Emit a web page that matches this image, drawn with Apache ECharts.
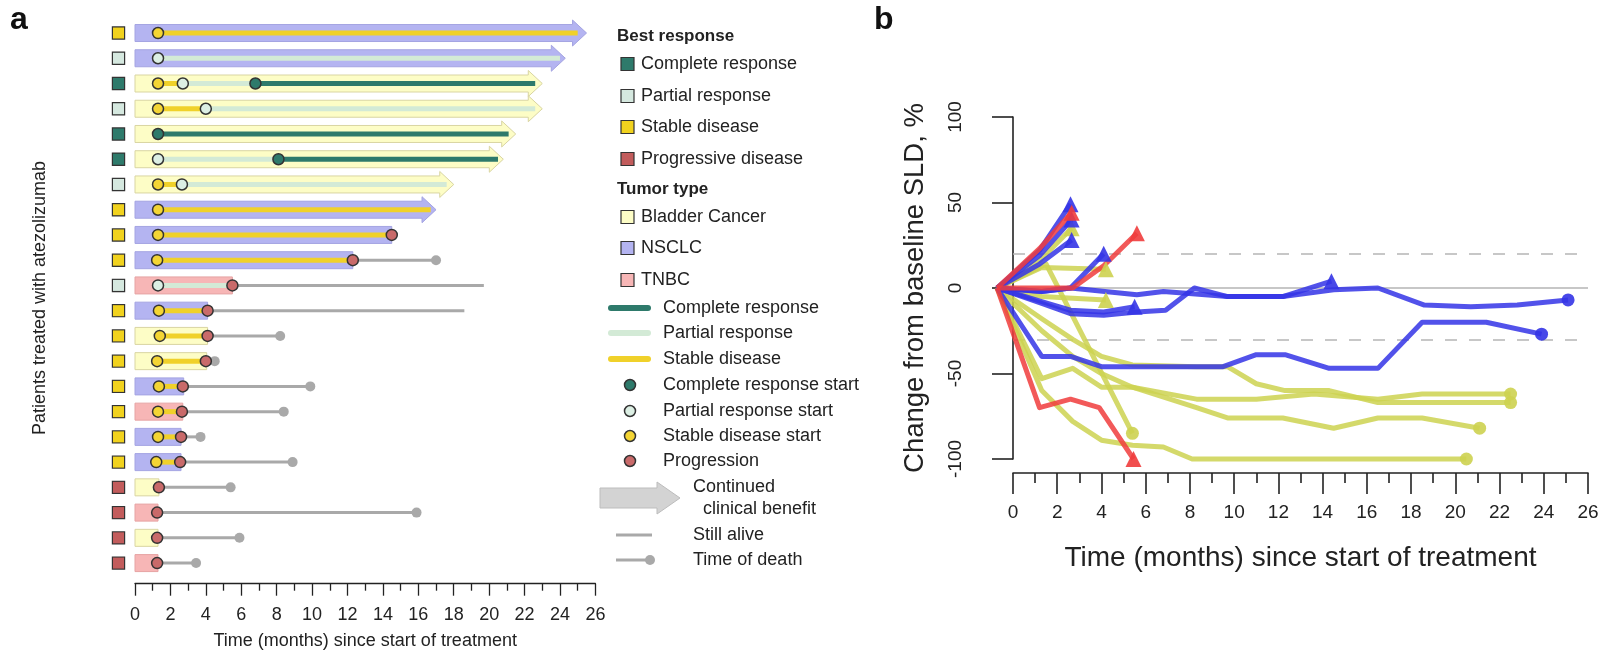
<!DOCTYPE html>
<html>
<head>
<meta charset="utf-8">
<script src="https://cdn.jsdelivr.net/npm/echarts@6/dist/echarts.min.js"></script>
<style>
html, body { margin: 0; padding: 0; background: #fff; }
#main { width: 1602px; height: 654px; }
</style>
</head>
<body>
<div id="main"></div>
<script>
// ---- panel a : one row per patient, top to bottom ----
const patients = ['1', '2', '3', '4', '5', '6', '7', '8', '9', '10', '11', '12', '13', '14', '15', '16', '17', '18', '19', '20', '21', '22']
const tumorType = ['NSCLC', 'NSCLC', 'Bladder', 'Bladder', 'Bladder', 'Bladder', 'Bladder', 'NSCLC', 'NSCLC', 'NSCLC', 'TNBC',
  'NSCLC', 'Bladder', 'Bladder', 'NSCLC', 'TNBC', 'NSCLC', 'NSCLC', 'Bladder', 'TNBC', 'Bladder', 'TNBC']
const bestResponse = ['SD', 'PR', 'CR', 'PR', 'CR', 'CR', 'PR', 'SD', 'SD', 'SD', 'PR',
  'SD', 'SD', 'SD', 'SD', 'SD', 'SD', 'SD', 'PD', 'PD', 'PD', 'PD']
// treatment duration (months), arrow tip for continued benefit
const barEnd = [25.5, 24.3, 23.0, 23.0, 21.5, 20.8, 18.0, 17.0, 14.5, 12.3, 5.5, 4.1, 4.1, 4.05, 2.75, 2.7, 2.6, 2.6, 1.35, 1.3, 1.3, 1.3]
const continued = [1, 1, 1, 1, 1, 1, 1, 1, 0, 0, 0, 0, 0, 0, 0, 0, 0, 0, 0, 0, 0, 0]
// response phases: [row, from, to, phase]
const phases = [
  [0, 1.3, 25.0, 'SD'],
  [1, 1.3, 24.0, 'PR'],
  [2, 1.3, 2.7, 'SD'], [2, 2.7, 6.8, 'PR'], [2, 6.8, 22.6, 'CR'],
  [3, 1.3, 4.0, 'SD'], [3, 4.0, 22.6, 'PR'],
  [4, 1.3, 21.1, 'CR'],
  [5, 1.3, 8.1, 'PR'], [5, 8.1, 20.5, 'CR'],
  [6, 1.3, 2.65, 'SD'], [6, 2.65, 17.6, 'PR'],
  [7, 1.3, 16.7, 'SD'],
  [8, 1.3, 14.5, 'SD'],
  [9, 1.25, 12.3, 'SD'],
  [10, 1.3, 5.5, 'PR'],
  [11, 1.35, 4.1, 'SD'],
  [12, 1.4, 4.1, 'SD'],
  [13, 1.25, 4.0, 'SD'],
  [14, 1.35, 2.7, 'SD'],
  [15, 1.3, 2.65, 'SD'],
  [16, 1.3, 2.6, 'SD'],
  [17, 1.2, 2.55, 'SD']
]
// events: [time, row]
const sdStart = [[1.3, 0], [1.3, 2], [1.3, 3], [1.3, 6], [1.3, 7], [1.3, 8], [1.25, 9], [1.35, 11], [1.4, 12], [1.25, 13],
  [1.35, 14], [1.3, 15], [1.3, 16], [1.2, 17]]
const prStart = [[1.3, 1], [2.7, 2], [4.0, 3], [1.3, 5], [2.65, 6], [1.3, 10]]
const crStart = [[6.8, 2], [1.3, 4], [8.1, 5]]
const progression = [[14.5, 8], [12.3, 9], [5.5, 10], [4.1, 11], [4.1, 12], [4.0, 13], [2.7, 14], [2.65, 15], [2.6, 16],
  [2.55, 17], [1.35, 18], [1.25, 19], [1.25, 20], [1.25, 21]]
// follow-up after treatment: [row, from, to, died]
const survival = [[9, 12.3, 17.0, 1], [10, 5.5, 19.7, 0], [11, 4.1, 18.6, 0], [12, 4.1, 8.2, 1], [13, 4.0, 4.5, 1],
  [14, 2.7, 9.9, 1], [15, 2.65, 8.4, 1], [16, 2.6, 3.7, 1], [17, 2.55, 8.9, 1], [18, 1.35, 5.4, 1],
  [19, 1.25, 15.9, 1], [20, 1.25, 5.9, 1], [21, 1.25, 3.45, 1]]

// ---- panel b : change from baseline SLD (%) ----
const sldTraces = [
  { tumor: 'Bladder', end: 'prog', pts: [[-0.72, 0], [1.2, 16], [2.65, 35]] },
  { tumor: 'Bladder', end: 'prog', pts: [[-0.72, 0], [1.3, 12], [4.2, 11]] },
  { tumor: 'Bladder', end: 'death', pts: [[-0.72, 0], [1.5, 14], [5.4, -85]] },
  { tumor: 'Bladder', end: 'prog', pts: [[-0.72, 0], [1.3, -5], [2.7, -6], [4.2, -7]] },
  { tumor: 'Bladder', end: 'death', pts: [[-0.72, 0], [1.3, -53], [2.7, -47], [4.0, -58], [5.4, -58], [8.3, -65], [11, -65], [13.6, -62], [16.5, -65], [18.5, -62], [22.5, -62]] },
  { tumor: 'Bladder', end: 'death', pts: [[-0.72, 0], [1.3, -18], [2.7, -30], [4.0, -40], [5.4, -45], [8.3, -46], [9.7, -46], [11, -56], [12.3, -60], [14.3, -60], [16.5, -67], [22.5, -67]] },
  { tumor: 'Bladder', end: 'death', pts: [[-0.72, 0], [1.3, -25], [2.7, -40], [4.0, -50], [5.4, -58], [8.3, -70], [9.7, -76], [12.2, -76], [14.5, -82], [16.5, -76], [18.5, -76], [21.1, -82]] },
  { tumor: 'Bladder', end: 'death', pts: [[-0.72, 0], [1.3, -60], [2.7, -78], [4.0, -89], [5.4, -92], [6.8, -93], [8.1, -100], [20.5, -100]] },
  { tumor: 'NSCLC', end: 'prog', pts: [[-0.72, 0], [1.2, 22], [2.6, 49]] },
  { tumor: 'NSCLC', end: 'prog', pts: [[-0.72, 0], [1.2, 19], [2.65, 40]] },
  { tumor: 'NSCLC', end: 'prog', pts: [[-0.72, 0], [1.2, 14], [2.65, 28]] },
  { tumor: 'NSCLC', end: 'prog', pts: [[-0.72, 0], [1.3, -2], [2.6, 0], [4.1, 20]] },
  { tumor: 'NSCLC', end: 'prog', pts: [[-0.72, 0], [1.3, -8], [2.6, -13], [4.1, -14], [5.5, -11]] },
  { tumor: 'NSCLC', end: 'prog', pts: [[-0.72, 0], [1.3, -9], [2.6, -15], [4.1, -16], [5.6, -14], [6.9, -13], [8.2, 0], [9.7, -5], [12.2, -5], [14.4, 4]] },
  { tumor: 'NSCLC', end: 'death', pts: [[-0.72, 0], [1.3, -2], [2.6, 0], [5.6, -4], [6.8, -2], [9.7, -5], [12.2, -5], [14.5, -1], [16.5, 0], [18.6, -10], [20.7, -11], [22.8, -10], [25.1, -7]] },
  { tumor: 'NSCLC', end: 'death', pts: [[-0.72, 0], [1.3, -40], [2.6, -40], [4.0, -46], [9.5, -46], [11, -39], [12.3, -39], [14.3, -47], [16.5, -47], [18.5, -20], [21.4, -20], [23.9, -27]] },
  { tumor: 'TNBC', end: 'prog', pts: [[-0.72, 0], [1.2, 23], [2.65, 44]] },
  { tumor: 'TNBC', end: 'prog', pts: [[-0.72, 0], [1.3, 0], [2.7, 0], [4.1, 13], [5.6, 32]] },
  { tumor: 'TNBC', end: 'prog', pts: [[-0.72, 0], [1.2, -70], [2.6, -65], [3.9, -70], [5.45, -100]] }
]
const refLines = [20, -30]

const FONT = '"Liberation Sans", Arial, Helvetica, sans-serif'
const tumorStyle = {
  Bladder: { fill: '#fdfdc6', stroke: '#d9d5a2' },
  NSCLC: { fill: '#b4b4f1', stroke: '#a4a4e2' },
  TNBC: { fill: '#f7b6b6', stroke: '#e6a3a3' }
}
const respColor = { CR: '#2e7a6b', PR: '#d5e8df', SD: '#f1d21e', PD: '#c25c5c' }
const phaseColor = { CR: '#2e7a6b', PR: '#d3ead6', SD: '#f0d12a' }
const traceColor = { Bladder: '#cdd250', NSCLC: '#3434e6', TNBC: '#f03c3c' }

const chart = echarts.init(document.getElementById('main'))

function renderBar(params, api) {
  const row = api.value(0)
  const end = api.value(1)
  const cont = api.value(2)
  const st = tumorStyle[tumorType[row]]
  const p0 = api.coord([0, row])
  const p1 = api.coord([end, row])
  const h = 8.5
  const hh = 13
  const style = { fill: st.fill, stroke: st.stroke, lineWidth: 1 }
  if (cont) {
    const xb = p1[0] - 14
    const y = p0[1]
    return {
      type: 'polygon',
      shape: { points: [[p0[0], y - h], [xb, y - h], [xb, y - hh], [p1[0], y], [xb, y + hh], [xb, y + h], [p0[0], y + h]] },
      style: style
    }
  }
  return { type: 'rect', shape: { x: p0[0], y: p0[1] - h, width: p1[0] - p0[0], height: 2 * h }, style: style }
}

function renderPhase(params, api) {
  const row = api.value(0)
  const a = api.coord([api.value(1), row])
  const b = api.coord([api.value(2), row])
  return {
    type: 'line',
    shape: { x1: a[0], y1: a[1], x2: b[0], y2: b[1] },
    style: { stroke: phaseColor[phases[params.dataIndex][3]], lineWidth: 5 }
  }
}

function renderSurvival(params, api) {
  const row = api.value(0)
  const a = api.coord([api.value(1), row])
  const b = api.coord([api.value(2), row])
  const children = [{
    type: 'line',
    shape: { x1: a[0], y1: a[1], x2: b[0], y2: b[1] },
    style: { stroke: '#a9a9a9', lineWidth: 3 }
  }]
  if (api.value(3)) {
    children.push({ type: 'circle', shape: { cx: b[0], cy: b[1], r: 5 }, style: { fill: '#a9a9a9' } })
  }
  return { type: 'group', children: children }
}

function eventSeries(name, data, color) {
  return {
    name: name,
    type: 'scatter',
    xAxisIndex: 0,
    yAxisIndex: 0,
    data: data,
    symbolSize: 11,
    itemStyle: { color: color, borderColor: '#333', borderWidth: 1.5, opacity: 1 },
    z: 5,
    silent: true
  }
}

const traceSeries = sldTraces.map(function (tr, i) {
  const last = tr.pts.length - 1
  return {
    type: 'line',
    xAxisIndex: 1,
    yAxisIndex: 1,
    data: tr.pts.map(function (p, k) {
      if (k !== last) return p
      return tr.end === 'prog'
        ? { value: p, symbol: 'triangle', symbolSize: 16 }
        : { value: p, symbol: 'circle', symbolSize: 13 }
    }),
    symbol: 'none',
    showSymbol: true,
    clip: false,
    silent: true,
    z: 3,
    lineStyle: { color: traceColor[tr.tumor], width: 5, opacity: 0.85, join: 'round' },
    itemStyle: { color: traceColor[tr.tumor], opacity: 0.9 },
    markLine: i === 0 ? {
      silent: true,
      symbol: ['none', 'none'],
      label: { show: false },
      data: [[{ coord: [0, 0] }, { coord: [26, 0] }]].concat(refLines.map(function (v) {
        return [{ coord: [0, v], lineStyle: { type: [12, 12], color: '#b5b5b5', width: 1.5 } }, { coord: [26, v] }]
      })),
      lineStyle: { type: 'solid', color: '#b5b5b5', width: 1.5 },
      z: 1
    } : undefined
  }
})

// legend items drawn next to panel a
const legendText = function (x, y, s, bold) {
  return {
    type: 'text', x: x, y: y,
    style: { text: s, fontFamily: FONT, fontSize: bold ? 17 : 18, fontWeight: bold ? 'bold' : 'normal', fill: '#222', verticalAlign: 'middle' }
  }
}
const legendBox = function (y, fill) {
  return { type: 'rect', shape: { x: 621, y: y - 6.5, width: 13, height: 13 }, style: { fill: fill, stroke: '#333', lineWidth: 1.2 } }
}
const legendGraphic = [
  { type: 'text', x: 10, y: 4, style: { text: 'a', fontFamily: FONT, fontSize: 32, fontWeight: 'bold', fill: '#111' } },
  { type: 'text', x: 874, y: 4, style: { text: 'b', fontFamily: FONT, fontSize: 32, fontWeight: 'bold', fill: '#111' } },
  legendText(617, 36, 'Best response', true),
  legendBox(64, respColor.CR), legendText(641, 64, 'Complete response'),
  legendBox(96, respColor.PR), legendText(641, 96, 'Partial response'),
  legendBox(127, respColor.SD), legendText(641, 127, 'Stable disease'),
  legendBox(159, respColor.PD), legendText(641, 159, 'Progressive disease'),
  legendText(617, 189, 'Tumor type', true),
  legendBox(217, tumorStyle.Bladder.fill), legendText(641, 217, 'Bladder Cancer'),
  legendBox(248, tumorStyle.NSCLC.fill), legendText(641, 248, 'NSCLC'),
  legendBox(280, tumorStyle.TNBC.fill), legendText(641, 280, 'TNBC'),
  { type: 'line', shape: { x1: 611, y1: 308, x2: 648, y2: 308 }, style: { stroke: phaseColor.CR, lineWidth: 6, lineCap: 'round' } },
  legendText(663, 308, 'Complete response'),
  { type: 'line', shape: { x1: 611, y1: 333, x2: 648, y2: 333 }, style: { stroke: phaseColor.PR, lineWidth: 6, lineCap: 'round' } },
  legendText(663, 333, 'Partial response'),
  { type: 'line', shape: { x1: 611, y1: 359, x2: 648, y2: 359 }, style: { stroke: phaseColor.SD, lineWidth: 6, lineCap: 'round' } },
  legendText(663, 359, 'Stable disease'),
  { type: 'circle', shape: { cx: 630, cy: 385, r: 5.5 }, style: { fill: respColor.CR, stroke: '#333', lineWidth: 1.5 } },
  legendText(663, 385, 'Complete response start'),
  { type: 'circle', shape: { cx: 630, cy: 411, r: 5.5 }, style: { fill: '#dcefe4', stroke: '#333', lineWidth: 1.5 } },
  legendText(663, 411, 'Partial response start'),
  { type: 'circle', shape: { cx: 630, cy: 436, r: 5.5 }, style: { fill: '#f4d534', stroke: '#333', lineWidth: 1.5 } },
  legendText(663, 436, 'Stable disease start'),
  { type: 'circle', shape: { cx: 630, cy: 461, r: 5.5 }, style: { fill: '#c96a6a', stroke: '#333', lineWidth: 1.5 } },
  legendText(663, 461, 'Progression'),
  {
    type: 'polygon',
    shape: { points: [[600, 488], [657, 488], [657, 482], [680, 498], [657, 514], [657, 508], [600, 508]] },
    style: { fill: '#d3d3d3', stroke: '#bdbdbd', lineWidth: 1 }
  },
  legendText(693, 487, 'Continued'),
  legendText(703, 509, 'clinical benefit'),
  { type: 'line', shape: { x1: 616, y1: 535, x2: 652, y2: 535 }, style: { stroke: '#a9a9a9', lineWidth: 3 } },
  legendText(693, 535, 'Still alive'),
  { type: 'line', shape: { x1: 616, y1: 560, x2: 650, y2: 560 }, style: { stroke: '#a9a9a9', lineWidth: 3 } },
  { type: 'circle', shape: { cx: 650, cy: 560, r: 5 }, style: { fill: '#a9a9a9' } },
  legendText(693, 560, 'Time of death')
]

const axisColor = '#222'
const option = {
  animation: false,
  backgroundColor: '#fff',
  textStyle: { fontFamily: FONT },
  grid: [
    { left: 135, top: 20.4, width: 460.4, height: 555.3, containLabel: false, outerBoundsMode: 'none' },
    { left: 990, top: 117, width: 598, height: 342, containLabel: false, outerBoundsMode: 'none' },
    { left: 1013, top: 472, width: 575, height: 1, containLabel: false, outerBoundsMode: 'none' }
  ],
  xAxis: [
    {
      gridIndex: 0, type: 'value', min: 0, max: 26, interval: 2, offset: 8,
      axisLine: { show: true, lineStyle: { color: axisColor, width: 1.3 } },
      axisTick: { show: true, length: 12, lineStyle: { color: axisColor, width: 1.3 } },
      minorTick: { show: true, splitNumber: 2, length: 7, lineStyle: { color: axisColor, width: 1.3 } },
      splitLine: { show: false },
      minorSplitLine: { show: false },
      axisLabel: { fontSize: 18, color: '#222', margin: 22 },
      name: 'Time (months) since start of treatment',
      nameLocation: 'middle', nameGap: 48,
      nameTextStyle: { fontSize: 18, color: '#222' }
    },
    {
      gridIndex: 1, type: 'value', min: -1.04, max: 26, show: false
    },
    {
      gridIndex: 2, type: 'value', min: 0, max: 26, interval: 2,
      axisLine: { show: true, lineStyle: { color: axisColor, width: 1.6 } },
      axisTick: { show: true, length: 21, lineStyle: { color: axisColor, width: 1.6 } },
      minorTick: { show: true, splitNumber: 2, length: 10, lineStyle: { color: axisColor, width: 1.6 } },
      splitLine: { show: false },
      minorSplitLine: { show: false },
      axisLabel: { fontSize: 19, color: '#222', margin: 30 },
      name: 'Time (months) since start of treatment',
      nameLocation: 'middle', nameGap: 71,
      nameTextStyle: { fontSize: 28, color: '#222' }
    }
  ],
  yAxis: [
    {
      gridIndex: 0, type: 'category', data: patients, inverse: true,
      axisLine: { show: false }, axisTick: { show: false }, splitLine: { show: false },
      axisLabel: {
        margin: 11,
        formatter: function (v, i) { return '{' + bestResponse[i] + '|}' },
        rich: {
          CR: { width: 11, height: 11, backgroundColor: respColor.CR, borderColor: '#333', borderWidth: 1.2 },
          PR: { width: 11, height: 11, backgroundColor: respColor.PR, borderColor: '#333', borderWidth: 1.2 },
          SD: { width: 11, height: 11, backgroundColor: respColor.SD, borderColor: '#333', borderWidth: 1.2 },
          PD: { width: 11, height: 11, backgroundColor: respColor.PD, borderColor: '#333', borderWidth: 1.2 }
        }
      },
      name: 'Patients treated with atezolizumab',
      nameLocation: 'middle', nameRotate: 90, nameGap: 86,
      nameTextStyle: { fontSize: 18, color: '#222' }
    },
    {
      gridIndex: 1, type: 'value', min: -100, max: 100, interval: 50,
      axisLine: { show: true, lineStyle: { color: axisColor, width: 1.6 } },
      axisTick: { show: true, length: 21, lineStyle: { color: axisColor, width: 1.6 } },
      splitLine: { show: false },
      axisLabel: { fontSize: 19, color: '#222', rotate: 90, margin: 25 },
      name: 'Change from baseline SLD, %',
      nameLocation: 'middle', nameRotate: 90, nameGap: 61,
      nameTextStyle: { fontSize: 27.5, color: '#222' }
    },
    { gridIndex: 2, type: 'value', show: false }
  ],
  graphic: legendGraphic,
  series: [
    {
      type: 'custom', xAxisIndex: 0, yAxisIndex: 0, renderItem: renderBar, silent: true, z: 1,
      encode: { x: 1, y: 0 },
      data: barEnd.map(function (e, i) { return [i, e, continued[i]] })
    },
    {
      type: 'custom', xAxisIndex: 0, yAxisIndex: 0, renderItem: renderSurvival, silent: true, z: 2,
      encode: { x: [1, 2], y: 0 },
      data: survival
    },
    {
      type: 'custom', xAxisIndex: 0, yAxisIndex: 0, renderItem: renderPhase, silent: true, z: 3,
      encode: { x: [1, 2], y: 0 },
      data: phases.map(function (p) { return [p[0], p[1], p[2]] })
    },
    eventSeries('Stable disease start', sdStart, '#f4d534'),
    eventSeries('Partial response start', prStart, '#dcefe4'),
    eventSeries('Complete response start', crStart, respColor.CR),
    eventSeries('Progression', progression, '#c96a6a')
  ].concat(traceSeries)
}

chart.setOption(option)
</script>
</body>
</html>
